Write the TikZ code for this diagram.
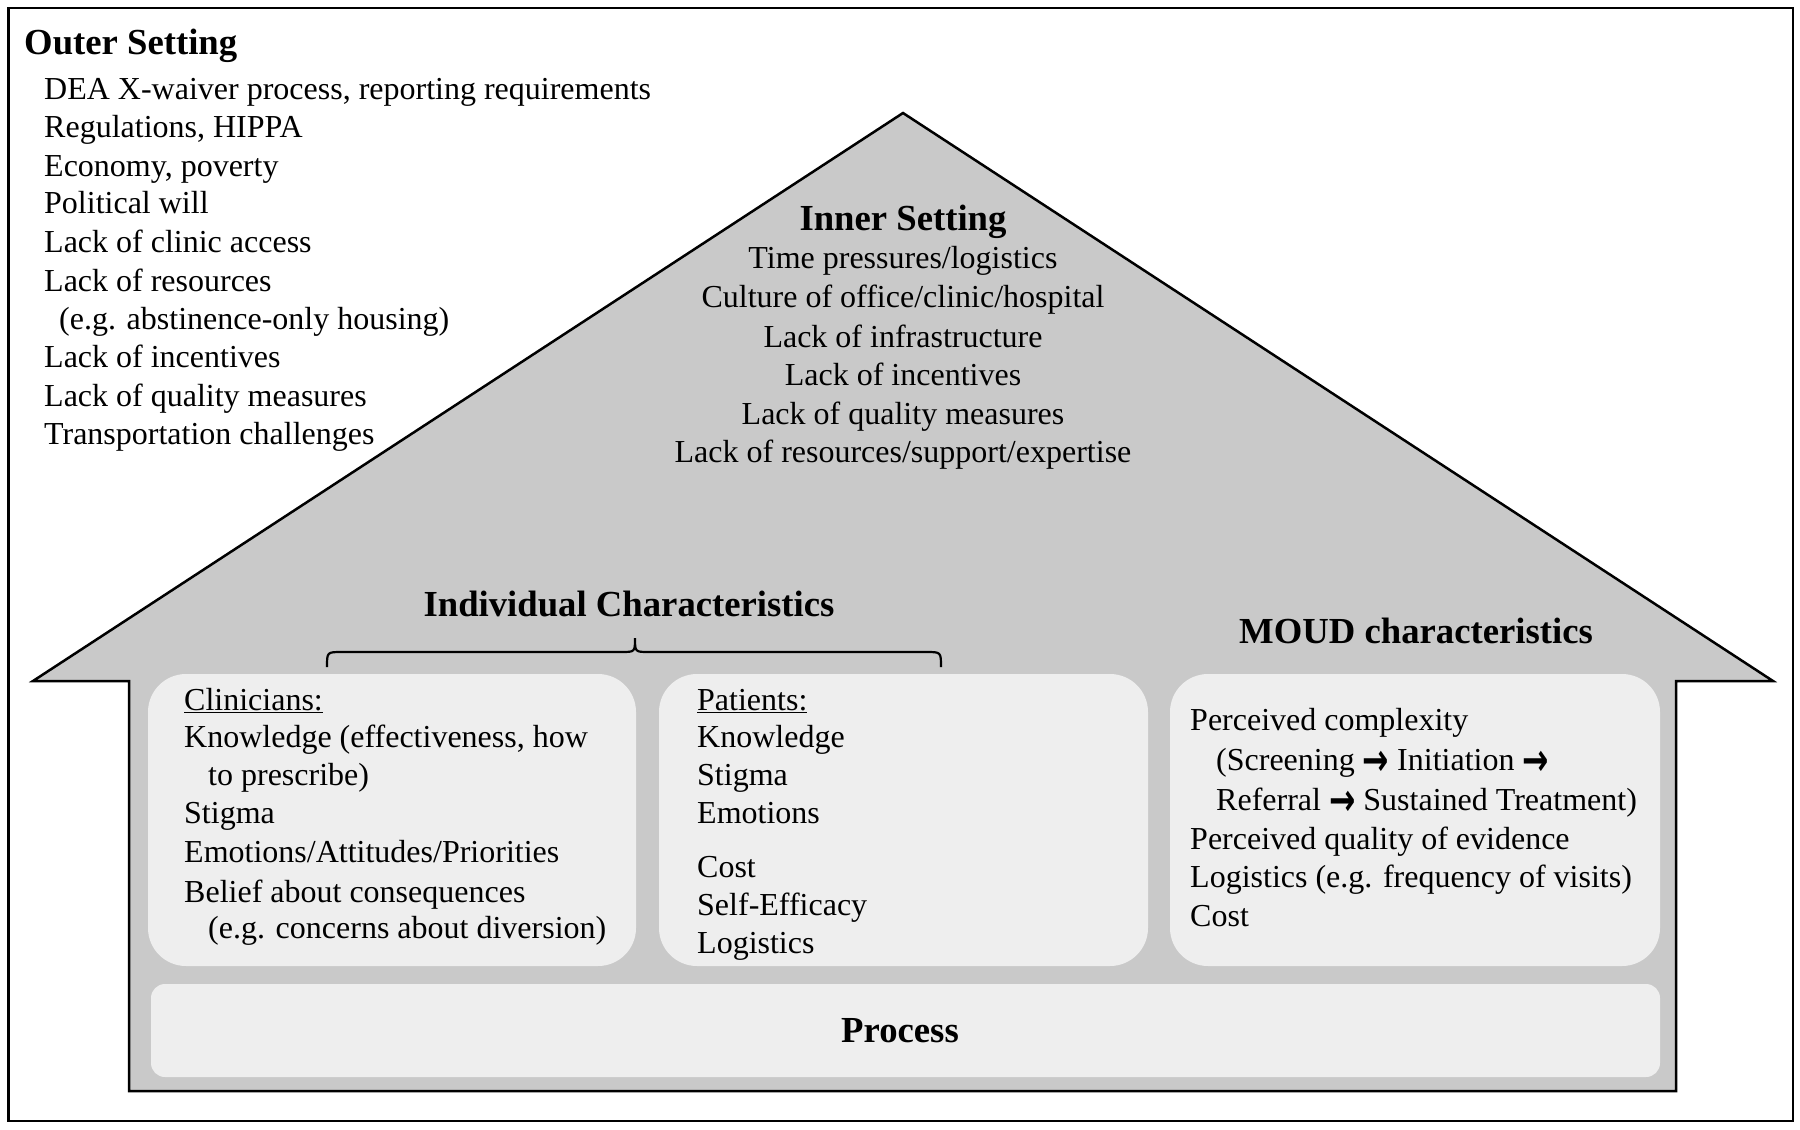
\documentclass[tikz,border=0pt]{standalone}
\usepackage{fontspec}
\setmainfont{Liberation Serif}
\newfontfamily\arrowfont{DejaVu Sans}
\definecolor{housegray}{RGB}{201,201,201}
\definecolor{boxgray}{RGB}{238,238,238}
\newcommand{\thickarrow}{{\arrowfont\bfseries\fontsize{30}{39}\selectfont\raisebox{-5pt}{\scalebox{1.05}[1.5]{→}}}}
\begin{document}
\begin{tikzpicture}[x=1pt,y=-1pt,
  body/.style={font=\fontsize{32}{39}\selectfont, inner sep=0pt, anchor=base west},
  bodyc/.style={font=\fontsize{32}{39}\selectfont, inner sep=0pt, anchor=base},
  ttl/.style={font=\fontsize{36.7}{44}\selectfont\bfseries, inner sep=0pt, anchor=base},
  panel/.style={rectangle, rounded corners=38pt, fill=boxgray, draw=none, inner sep=0pt},
  outline/.style={draw=black, line width=2.5pt, line join=miter}]
\useasboundingbox (0,0) rectangle (1800,1130);
% outer frame
\draw[outline] (8.5,8) rectangle (1793,1121);
% house
\draw[outline, fill=housegray] (33,681) -- (903,113) -- (1773,681) -- (1676,681) -- (1676,1091) -- (129,1091) -- (129,681) -- cycle;
% panels
\node[panel, minimum width=488pt, minimum height=292pt] (clinbox) at (392,820) {};
\node[panel, minimum width=489pt, minimum height=292pt] (patbox) at (903.5,820) {};
\node[panel, minimum width=490pt, minimum height=292pt] (moudbox) at (1415,820) {};
\node[panel, rounded corners=14pt, minimum width=1509pt, minimum height=93pt] (procbox) at (905.5,1030.5) {};
% outer setting
\node[ttl, anchor=base west] (outerT) at (24,54) {Outer Setting};
\node[body] (o1) at (44,99) {DEA X-waiver process, reporting requirements};
\node[body] (o2) at (44,137) {Regulations, HIPPA};
\node[body] (o3) at (44,176) {Economy, poverty};
\node[body] (o4) at (44,213) {Political will};
\node[body] (o5) at (44,252) {Lack of clinic access};
\node[body] (o6) at (44,291) {Lack of resources};
\node[body] (o7) at (59,329) {(e.g. abstinence-only housing)};
\node[body] (o8) at (44,367) {Lack of incentives};
\node[body] (o9) at (44,406) {Lack of quality measures};
\node[body] (o10) at (44,444) {Transportation challenges};
% inner setting
\node[ttl] (innerT) at (903,230) {Inner Setting};
\node[bodyc] (i1) at (903,268) {Time pressures/logistics};
\node[bodyc] (i2) at (903,307) {Culture of office/clinic/hospital};
\node[bodyc] (i3) at (903,347) {Lack of infrastructure};
\node[bodyc] (i4) at (903,385) {Lack of incentives};
\node[bodyc] (i5) at (903,424) {Lack of quality measures};
\node[bodyc] (i6) at (903,462) {Lack of resources/support/expertise};
% individual characteristics
\node[ttl] (indT) at (629,616) {Individual Characteristics};
\draw[line width=2.2pt] (327,667) .. controls (327,652) .. (342,652) -- (621,652)
  .. controls (635,652) .. (635,638) .. controls (635,652) .. (649,652) -- (926,652)
  .. controls (941,652) .. (941,667);
% MOUD
\node[ttl] (moudT) at (1416,643) {MOUD characteristics};
% clinicians
\node[body] (c0) at (184,710) {\underline{Clinicians:}};
\node[body] (c1) at (184,747) {Knowledge (effectiveness, how};
\node[body] (c2) at (208,785) {to prescribe)};
\node[body] (c3) at (184,823) {Stigma};
\node[body] (c4) at (184,862) {Emotions/Attitudes/Priorities};
\node[body] (c5) at (184,902) {Belief about consequences};
\node[body] (c6) at (208,938) {(e.g. concerns about diversion)};
% patients
\node[body] (p0) at (697,710) {\underline{Patients:}};
\node[body] (p1) at (697,747) {Knowledge};
\node[body] (p2) at (697,785) {Stigma};
\node[body] (p3) at (697,823) {Emotions};
\node[body] (p4) at (697,877) {Cost};
\node[body] (p5) at (697,915) {Self-Efficacy};
\node[body] (p6) at (697,953) {Logistics};
% MOUD lines
\node[body] (m1) at (1190,730) {Perceived complexity};
\node[body] (m2) at (1216,770) {(Screening \thickarrow{} Initiation \thickarrow};
\node[body] (m3) at (1216,810) {Referral \thickarrow{} Sustained Treatment)};
\node[body] (m4) at (1190,849) {Perceived quality of evidence};
\node[body] (m5) at (1190,887) {Logistics (e.g. frequency of visits)};
\node[body] (m6) at (1190,926) {Cost};
% process
\node[ttl] (procT) at (900,1042) {Process};
\end{tikzpicture}
\end{document}
